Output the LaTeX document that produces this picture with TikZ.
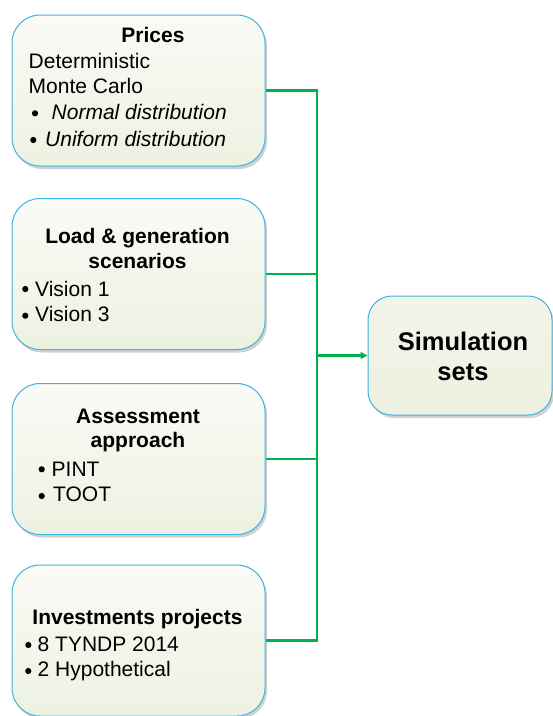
\documentclass[tikz,border=0pt]{standalone}
\usepackage{fontspec}
\setmainfont{Liberation Sans}
\usetikzlibrary{shadows,arrows.meta}
\definecolor{boxline}{HTML}{3BB4E6}
\definecolor{boxtop}{HTML}{FAFBF6}
\definecolor{boxbot}{HTML}{EDF1E1}
\definecolor{conngreen}{HTML}{00B050}
\begin{document}
\begin{tikzpicture}[x=1pt,y=-1pt,
  box/.style={draw=boxline, line width=1pt, rounded corners=28pt, inner sep=0pt,
    top color=boxtop, bottom color=boxbot,
    drop shadow={shadow xshift=2pt, shadow yshift=-3pt, fill=black, opacity=0.18},
    minimum width=253pt, minimum height=151pt},
  simbox/.style={box, rounded corners=24pt, top color=boxbot!70!boxtop, bottom color=boxbot,
    minimum width=184pt, minimum height=119pt},
  txt/.style={anchor=base west, inner sep=0pt, font=\fontsize{21}{24}\selectfont},
  ttl/.style={anchor=base, inner sep=0pt, font=\fontsize{21}{24}\selectfont\bfseries},
  bigttl/.style={anchor=base, inner sep=0pt, font=\fontsize{25.5}{30}\selectfont\bfseries},
  bul/.style={circle, fill=black, inner sep=0pt, minimum size=6.2pt},
  conn/.style={draw=conngreen, line width=2.2pt},
]
\useasboundingbox (0,0) rectangle (553,716);

% boxes
\node[box] (b1) at (138.5,90.5) {};
\node[box] (b2) at (138.5,274) {};
\node[box] (b3) at (138.5,459) {};
\node[box] (b4) at (138.5,640.5) {};
\node[simbox] (sim) at (460,355.5) {};

% box 1 text
\node[ttl] (t1) at (153,42.7) {Prices};
\node[txt] (t1a) at (28.5,68.3) {Deterministic};
\node[txt] (t1b) at (28.5,93.3) {Monte Carlo};
\node[bul] (t1cb) at (35,113.3) {};
\node[txt] (t1c) at (51.5,119.3) {\itshape Normal distribution};
\node[bul] (t1db) at (33.3,140) {};
\node[txt] (t1d) at (45,146.5) {\itshape Uniform distribution};

% box 2 text
\node[ttl] (t2) at (137.5,243) {Load \& generation};
\node[ttl] (t2b) at (137.5,268) {scenarios};
\node[bul] (t2cb) at (25.3,289) {};
\node[txt] (t2c) at (35,296) {Vision 1};
\node[bul] (t2db) at (25.3,315.7) {};
\node[txt] (t2d) at (35,321.7) {Vision 3};

% box 3 text
\node[ttl] (t3) at (138,423) {Assessment};
\node[ttl] (t3b) at (138,447.7) {approach};
\node[bul] (t3cb) at (41.7,469.3) {};
\node[txt] (t3c) at (51.5,476) {PINT};
\node[bul] (t3db) at (41.7,496) {};
\node[txt] (t3d) at (53,501.7) {TOOT};

% box 4 text
\node[ttl] (t4) at (137.5,624.3) {Investments projects};
\node[bul] (t4cb) at (28.3,645) {};
\node[txt] (t4c) at (37.5,651) {8 TYNDP 2014};
\node[bul] (t4db) at (28.3,671) {};
\node[txt] (t4d) at (37.5,676.7) {2 Hypothetical};

% simulation text
\node[bigttl] (ts1) at (463,350) {Simulation};
\node[bigttl] (ts2) at (463,380) {sets};

% connectors
\coordinate (bus) at (317,0);
\draw[conn] (b1.east) -| (b4.east -| bus) -- (b4.east);
\draw[conn] (b2.east) -- (b2.east -| bus);
\draw[conn] (b3.east) -- (b3.east -| bus);
\draw[conn, -{Triangle[length=7pt,width=7pt]}] (sim.west -| bus) -- (sim.west);
\end{tikzpicture}
\end{document}
